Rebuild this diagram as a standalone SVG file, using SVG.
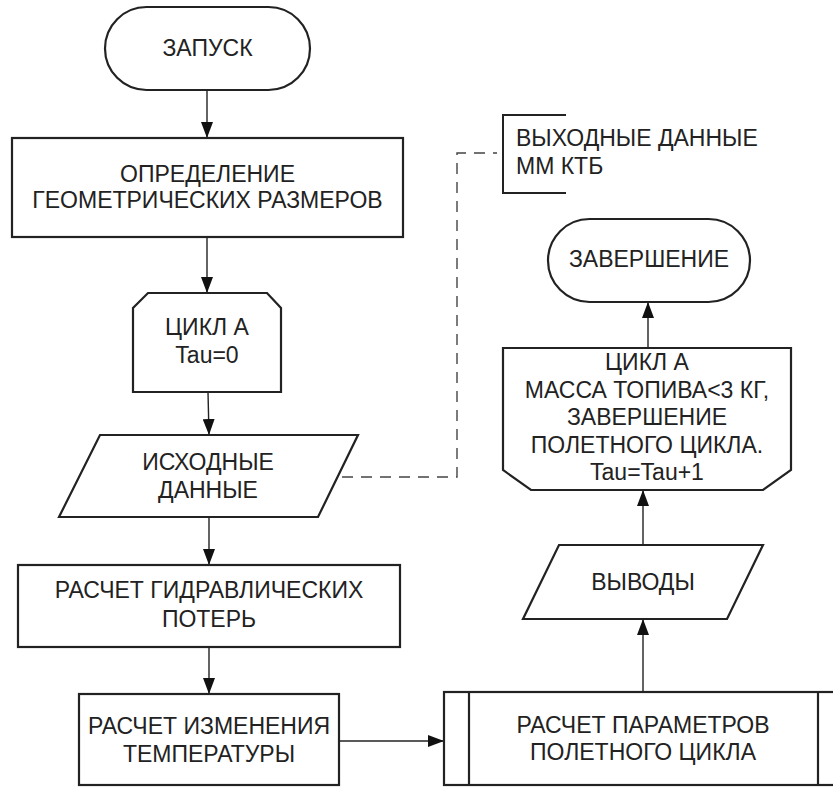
<svg xmlns="http://www.w3.org/2000/svg" width="833" height="789" viewBox="0 0 833 789">
<defs>
<marker id="ah" viewBox="0 0 16 12" refX="16" refY="6" markerWidth="16" markerHeight="12" markerUnits="userSpaceOnUse" orient="auto">
<path d="M0,0 L16,6 L0,12 Z" fill="#111"/>
</marker>
</defs>
<style>
.s{fill:#fff;stroke:#222;stroke-width:2.2}
text{font-family:'Liberation Sans',Arimo,Arial,sans-serif;font-size:23px;fill:#222}
.t{text-anchor:middle}
.c{fill:none;stroke:#222;stroke-width:1.4}
.d{fill:none;stroke:#444;stroke-width:1.4;stroke-dasharray:11,8}
</style>
<rect width="833" height="789" fill="#fff"/>
<g id="connectors">
<line class="c" x1="207" y1="90" x2="207" y2="138" marker-end="url(#ah)"/>
<line class="c" x1="207" y1="237" x2="207" y2="293" marker-end="url(#ah)"/>
<line class="c" x1="208" y1="392" x2="209" y2="435" marker-end="url(#ah)"/>
<line class="c" x1="209" y1="517" x2="209" y2="565" marker-end="url(#ah)"/>
<line class="c" x1="209" y1="647" x2="209" y2="694" marker-end="url(#ah)"/>
<line class="c" x1="339" y1="741" x2="444" y2="741" marker-end="url(#ah)"/>
<line class="c" x1="643" y1="692" x2="643" y2="619" marker-end="url(#ah)"/>
<line class="c" x1="643" y1="545" x2="643" y2="490" marker-end="url(#ah)"/>
<line class="c" x1="648" y1="348" x2="648" y2="302" marker-end="url(#ah)"/>
<polyline class="d" points="342,477 457,477 457,153 497,153"/>
</g>
<g id="start">
<rect class="s" x="105" y="7" width="205" height="83" rx="41.5"/>
<text class="t" x="207.5" y="56">ЗАПУСК</text>
</g>
<g id="geometry">
<rect class="s" x="12" y="138" width="391" height="99"/>
<text class="t" x="207.5" y="182">ОПРЕДЕЛЕНИЕ</text>
<text class="t" x="207.5" y="208">ГЕОМЕТРИЧЕСКИХ РАЗМЕРОВ</text>
</g>
<g id="loopStart">
<path class="s" d="M148,293 L267,293 L281,308 L281,392 L133,392 L133,308 Z"/>
<text class="t" x="207" y="335">ЦИКЛ А</text>
<text class="t" x="207" y="363">Tau=0</text>
</g>
<g id="input">
<path class="s" d="M100,435 L358,435 L318,517 L59,517 Z"/>
<text class="t" x="208" y="470">ИСХОДНЫЕ</text>
<text class="t" x="208" y="498">ДАННЫЕ</text>
</g>
<g id="hydraulic">
<rect class="s" x="18" y="565" width="382" height="82"/>
<text class="t" x="209" y="598">РАСЧЕТ ГИДРАВЛИЧЕСКИХ</text>
<text class="t" x="209" y="627">ПОТЕРЬ</text>
</g>
<g id="temperature">
<rect class="s" x="79" y="694" width="260" height="91"/>
<text class="t" x="209" y="734">РАСЧЕТ ИЗМЕНЕНИЯ</text>
<text class="t" x="209" y="762">ТЕМПЕРАТУРЫ</text>
</g>
<g id="flightParams">
<rect class="s" x="444" y="692" width="400" height="93"/>
<line class="s" x1="469" y1="692" x2="469" y2="785"/>
<line class="s" x1="818" y1="692" x2="818" y2="785"/>
<text class="t" x="643" y="733">РАСЧЕТ ПАРАМЕТРОВ</text>
<text class="t" x="643" y="760">ПОЛЕТНОГО ЦИКЛА</text>
</g>
<g id="outputs">
<path class="s" d="M559,545 L763,545 L727,619 L523,619 Z"/>
<text class="t" x="643" y="590">ВЫВОДЫ</text>
</g>
<g id="loopEnd">
<path class="s" d="M503,348 L791,348 L791,470 L763,490 L531,490 L503,470 Z"/>
<text class="t" x="647" y="370">ЦИКЛ А</text>
<text class="t" x="647" y="398">МАССА ТОПИВА&lt;3 КГ,</text>
<text class="t" x="647" y="425">ЗАВЕРШЕНИЕ</text>
<text class="t" x="647" y="453">ПОЛЕТНОГО ЦИКЛА.</text>
<text class="t" x="647" y="480">Tau=Tau+1</text>
</g>
<g id="end">
<rect class="s" x="548" y="219" width="202" height="83" rx="41.5"/>
<text class="t" x="649" y="267">ЗАВЕРШЕНИЕ</text>
</g>
<g id="annotation">
<path class="c" style="stroke-width:2" d="M566,115 L503,115 L503,193 L566,193"/>
<text x="516" y="146">ВЫХОДНЫЕ ДАННЫЕ</text>
<text x="516" y="174">ММ КТБ</text>
</g>
</svg>
